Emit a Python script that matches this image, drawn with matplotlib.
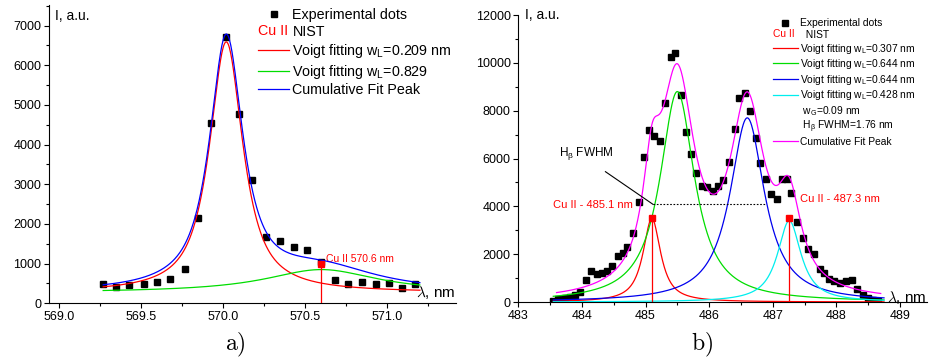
import numpy as np
import matplotlib.pyplot as plt
from matplotlib.lines import Line2D
from matplotlib.legend_handler import HandlerBase
from matplotlib.text import Text
from matplotlib.ticker import MultipleLocator, FormatStrFormatter

plt.rcParams['font.family'] = ['Liberation Sans', 'DejaVu Sans']
plt.rcParams['mathtext.fontset'] = 'custom'
plt.rcParams['mathtext.rm'] = 'Liberation Sans'
plt.rcParams['mathtext.it'] = 'Liberation Sans:italic'

# ---- panel a): Cu II 570 nm region ----
a_x = [569.27, 569.35, 569.43, 569.52, 569.60, 569.68, 569.77, 569.85, 569.93, 570.02,
       570.10, 570.18, 570.26, 570.35, 570.43, 570.51, 570.60, 570.68, 570.76, 570.85,
       570.93, 571.01, 571.09, 571.17]
a_y = [480, 400, 460, 495, 530, 610, 865, 2145, 4540, 6720,
       4765, 3100, 1665, 1580, 1430, 1335, 1050, 595, 495, 535,
       480, 505, 380, 480]
a_base = 270
a_wg = 0.09
a_centers = [570.02, 570.60]
a_heights = [6320, 580]
a_wl = [0.209, 0.829]
a_colors = ['#ff0000', '#00dd00']
a_labels = ['Voigt fitting w$_\\mathrm{L}$=0.209 nm', 'Voigt fitting w$_\\mathrm{L}$=0.829']
a_nist_x = [570.6]
a_nist_y = [1000]
a_nist_text = 'Cu II 570.6 nm'

# ---- panel b): H-beta region ----
b_x = [483.55, 483.62, 483.73, 483.81, 483.89, 483.97, 484.06, 484.14, 484.23, 484.31,
       484.39, 484.48, 484.56, 484.64, 484.71, 484.81, 484.89, 484.97, 485.06, 485.14,
       485.23, 485.31, 485.40, 485.47, 485.56, 485.64, 485.72, 485.80, 485.89, 485.97,
       486.06, 486.14, 486.22, 486.32, 486.40, 486.47, 486.56, 486.64, 486.74, 486.80,
       486.89, 486.97, 487.06, 487.14, 487.22, 487.29, 487.38, 487.48, 487.56, 487.65,
       487.74, 487.81, 487.89, 487.97, 488.06, 488.15, 488.24, 488.32, 488.42, 488.50,
       488.58, 488.66]
b_y = [54, 113, 155, 197, 293, 431, 920, 1297, 1172, 1200,
       1311, 1520, 1925, 2037, 2288, 2874, 4171, 6054, 7184, 6958,
       6736, 8326, 10238, 10431, 8674, 7126, 6192, 5385, 4853, 4826,
       4658, 4853, 5104, 5870, 7251, 8523, 8757, 7991, 6875, 5803,
       5159, 4519, 4322, 5134, 5134, 4548, 3360, 2690, 2205, 1996,
       1393, 1226, 962, 891, 808, 891, 933, 531, 293, 155,
       100, 54]
b_base = 0
b_wg = 0.09
b_centers = [485.10, 485.50, 486.60, 487.26]
b_heights = [3500, 8800, 7700, 3400]
b_wl = [0.307, 0.644, 0.644, 0.428]
b_colors = ['#ff0000', '#00dd00', '#0000ee', '#00eeee']
b_labels = ['Voigt fitting w$_\\mathrm{L}$=%.3f nm' % w for w in b_wl]
b_nist_x = [485.10, 487.25]
b_nist_y = [3500, 3500]
b_nist_text = ['Cu II - 485.1 nm', 'Cu II - 487.3 nm']
fwhm_left = 485.12
fwhm_value = 1.76
fwhm_level = 4080


def voigt(x, xc, h, wl, wg):
    # pseudo-Voigt (Thompson-Cox-Hastings), peak height h
    f = (wg**5 + 2.69269 * wg**4 * wl + 2.42843 * wg**3 * wl**2
         + 4.47163 * wg**2 * wl**3 + 0.07842 * wg * wl**4 + wl**5) ** 0.2
    r = wl / f
    eta = 1.36603 * r - 0.47719 * r**2 + 0.11116 * r**3
    lor = 1.0 / (1.0 + ((x - xc) / (f / 2)) ** 2)
    gau = np.exp(-4 * np.log(2) * (x - xc) ** 2 / f**2)
    return h * (eta * lor + (1 - eta) * gau)


class RedCu:
    pass


class HandlerRedCu(HandlerBase):
    def create_artists(self, legend, orig_handle, xdescent, ydescent,
                       width, height, fontsize, trans):
        t = Text(-xdescent, -ydescent + height / 2, 'Cu II', color='red',
                 fontsize=fontsize, ha='left', va='center', transform=trans)
        return [t]


def style_axes(ax):
    for s in ['top', 'right']:
        ax.spines[s].set_visible(False)
    for s in ['left', 'bottom']:
        ax.spines[s].set_linewidth(0.8)
    ax.tick_params(which='major', direction='out', length=3.5, width=0.8, labelsize=9, pad=2)
    ax.tick_params(which='minor', direction='out', length=2, width=0.8)


fig = plt.figure(figsize=(9.3, 3.63), dpi=100)

# ---------------- a) ----------------
ax1 = fig.add_axes([0.0527, 0.1645, 0.4376, 0.8218])
ax1.plot(a_x, a_y, 's', color='black', ms=5, zorder=2)
xa = np.linspace(a_x[0], 571.2, 500)
a_total = np.full_like(xa, a_base, dtype=float)
a_lines = []
for xc, h, wl, c in zip(a_centers, a_heights, a_wl, a_colors):
    prof = voigt(xa, xc, h, wl, a_wg)
    a_total += prof
    ln, = ax1.plot(xa, a_base + prof, color=c, lw=0.9, zorder=3)
    a_lines.append(ln)
cum1, = ax1.plot(xa, a_total, color='#0000ff', lw=0.9, zorder=4)
ax1.vlines(a_nist_x, 0, a_nist_y, color='red', lw=0.9, zorder=5)
ax1.plot(a_nist_x, a_nist_y, 's', color='red', ms=5, zorder=6)
ax1.text(a_nist_x[0] + 0.03, a_nist_y[0] + 120, a_nist_text, color='red', fontsize=7.5,
         ha='left', va='center')

ax1.set_xlim(568.94, 571.42)
ax1.set_ylim(0, 7520)
ax1.xaxis.set_major_locator(MultipleLocator(0.5))
ax1.xaxis.set_minor_locator(MultipleLocator(0.25))
ax1.xaxis.set_major_formatter(FormatStrFormatter('%.1f'))
ax1.yaxis.set_major_locator(MultipleLocator(1000))
ax1.yaxis.set_minor_locator(MultipleLocator(500))
style_axes(ax1)
ax1.text(0.015, 0.963, 'I, a.u.', transform=ax1.transAxes, fontsize=10, ha='left', va='center')
ax1.text(0.998, 0.036, '$\\lambda$, nm', transform=ax1.transAxes, fontsize=11,
         ha='right', va='center', math_fontfamily='cm')

dots1 = Line2D([], [], marker='s', ls='none', color='black', ms=5)
h1 = [dots1, RedCu()] + a_lines + [cum1]
l1 = ['Experimental dots', 'NIST'] + a_labels + ['Cumulative Fit Peak']
ax1.legend(h1, l1, handler_map={RedCu: HandlerRedCu()}, loc='upper left',
           bbox_to_anchor=(0.513, 0.99), frameon=False, fontsize=10.3,
           borderpad=0, borderaxespad=0, handlelength=2.2, handletextpad=0.22,
           labelspacing=0.2)

# ---------------- b) ----------------
ax2 = fig.add_axes([0.5573, 0.168, 0.4391, 0.7906])
ax2.plot(b_x, b_y, 's', color='black', ms=4.5, zorder=2)
xb = np.linspace(483.55, 488.75, 800)
b_total = np.full_like(xb, b_base, dtype=float)
b_lines = []
for xc, h, wl, c in zip(b_centers, b_heights, b_wl, b_colors):
    prof = voigt(xb, xc, h, wl, b_wg)
    b_total += prof
    ln, = ax2.plot(xb, b_base + prof, color=c, lw=0.9, zorder=3)
    b_lines.append(ln)
cut = (xb >= 483.6) & (xb <= 488.7)
cum2, = ax2.plot(xb[cut], b_total[cut], color='#ff00ff', lw=0.9, zorder=4)
ax2.vlines(b_nist_x, 0, b_nist_y, color='red', lw=0.9, zorder=5)
ax2.plot(b_nist_x, b_nist_y, 's', color='red', ms=5, zorder=6)
ax2.text(483.55, fwhm_level - 20, b_nist_text[0], color='red', fontsize=8,
         ha='left', va='center')
ax2.text(487.43, fwhm_level + 230, b_nist_text[1], color='red', fontsize=8,
         ha='left', va='center')

# H-beta FWHM marker
ax2.hlines(fwhm_level, fwhm_left, fwhm_left + fwhm_value, color='black', lw=0.8,
           linestyles=(0, (1.5, 1.5)), zorder=5)
ax2.plot([484.37, fwhm_left], [5450, fwhm_level], color='black', lw=0.8, zorder=5)
ax2.text(484.07, 6220, 'H$_\\mathrm{\u03b2}$ FWHM', fontsize=8.5, ha='center', va='center')

ax2.set_xlim(483, 489.42)
ax2.set_ylim(0, 12000)
ax2.xaxis.set_major_locator(MultipleLocator(1))
ax2.xaxis.set_minor_locator(MultipleLocator(0.5))
ax2.yaxis.set_major_locator(MultipleLocator(2000))
ax2.yaxis.set_minor_locator(MultipleLocator(1000))
style_axes(ax2)
ax2.text(0.016, 1.0, 'I, a.u.', transform=ax2.transAxes, fontsize=10, ha='left', va='center')
ax2.text(1.0, 0.016, '$\\lambda$, nm', transform=ax2.transAxes, fontsize=11,
         ha='right', va='center', math_fontfamily='cm')

dots2 = Line2D([], [], marker='s', ls='none', color='black', ms=4.5)
blank = Line2D([], [], ls='none')
h2 = [dots2, RedCu()] + b_lines + [blank, blank, cum2]
l2 = ['Experimental dots', '  NIST'] + b_labels + \
     [' w$_\\mathrm{G}$=0.09 nm', ' H$_\\mathrm{\u03b2}$ FWHM=1.76 nm', 'Cumulative Fit Peak']
ax2.legend(h2, l2, handler_map={RedCu: HandlerRedCu()}, loc='upper left',
           bbox_to_anchor=(0.624, 0.988), frameon=False, fontsize=7.4,
           borderpad=0, borderaxespad=0, handlelength=2.4, handletextpad=0.2,
           labelspacing=0.15)

fig.text(0.253, 0.05, '$\\mathrm{a)}$', fontsize=17, ha='center', va='center', math_fontfamily='cm')
fig.text(0.755, 0.05, '$\\mathrm{b)}$', fontsize=17, ha='center', va='center', math_fontfamily='cm')

fig.savefig('out.png', dpi=100)
